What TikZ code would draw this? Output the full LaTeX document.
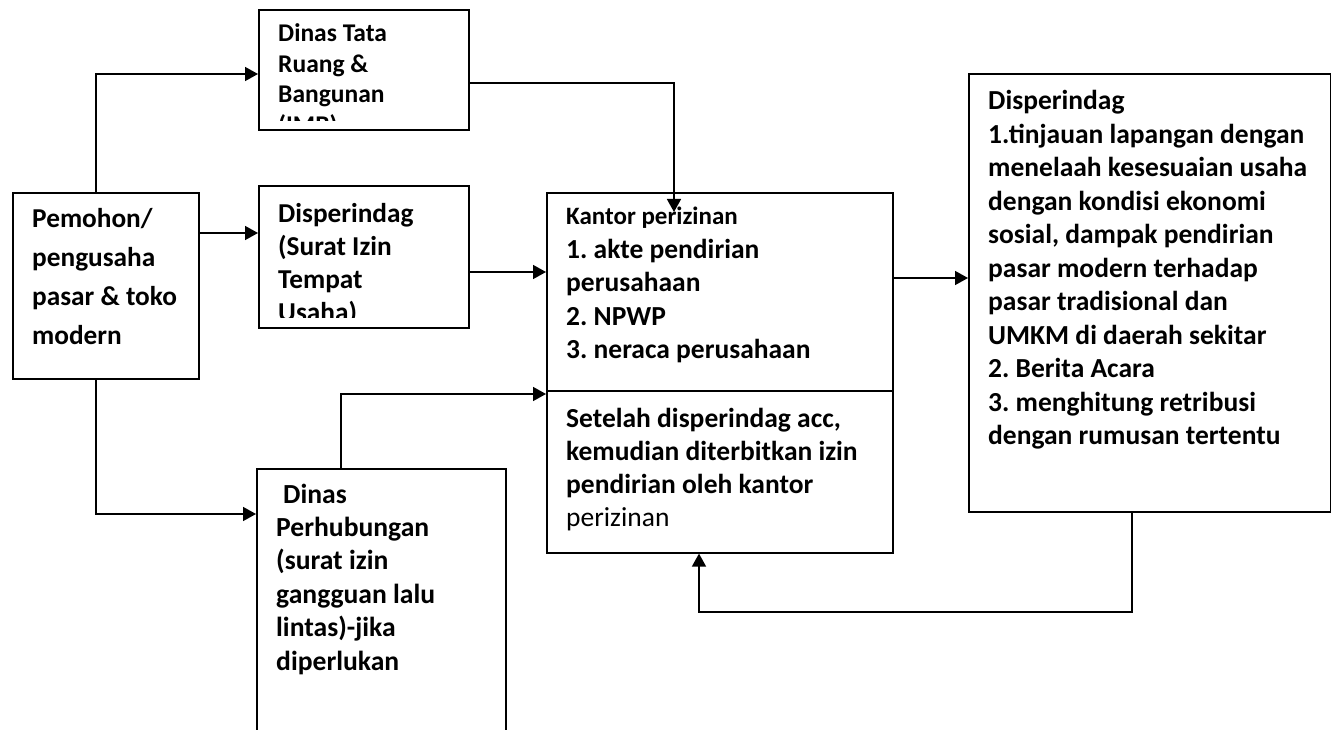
\documentclass[tikz,border=0pt]{standalone}
\usepackage{fontspec}
\setmainfont{Carlito}
\usetikzlibrary{arrows.meta}
\frenchspacing
\newcommand{\tlines}[3]{\parbox[t]{420pt}{\raggedright\frenchspacing\fontsize{#1pt}{#2pt}\selectfont\bfseries #3}}
\begin{document}
\begin{tikzpicture}[x=1pt,y=-1pt,
  box/.style={draw, line width=1.6pt, rectangle, inner sep=0pt, anchor=north west},
  arr/.style={line width=1.6pt, -{Triangle[length=13pt,width=14pt]}},
  ln/.style={line width=1.6pt},
  txt/.style={anchor=base west, inner sep=0pt}]
\useasboundingbox (0,0) rectangle (1331,730);
\clip (0,0) rectangle (1331,730);
\fill[white] (0,0) rectangle (1331,730);

% boxes
\node[box, minimum width=186pt, minimum height=186pt] (pem) at (12,192) {};
\node[box, minimum width=210pt, minimum height=120pt] (tata) at (258,9) {};
\node[box, minimum width=210pt, minimum height=142pt] (surat) at (258,185) {};
\node[box, minimum width=249pt, minimum height=280pt] (hub) at (256,468) {};
\node[box, minimum width=346pt, minimum height=360pt] (kantor) at (546,192) {};
\node[box, minimum width=362pt, minimum height=438pt] (dis) at (968,73) {};
\coordinate (divy) at (0,391);
\draw[ln] (kantor.west |- divy) -- (kantor.east |- divy);

% texts
\node[txt] (pemt) at (32,228) {\tlines{27.3}{39}{Pemohon/\\pengusaha\\pasar \& toko\\modern}};
\begin{scope}
\clip (258,9) rectangle (468,121);
\node[txt] (tatat) at (278,42) {\tlines{25.5}{30.5}{Dinas Tata\\Ruang \&\\Bangunan\\(IMB)}};
\end{scope}
\begin{scope}
\clip (258,185) rectangle (468,317);
\node[txt] (surt) at (278,223) {\tlines{27.3}{33}{Disperindag\\(Surat Izin\\Tempat\\Usaha)}};
\end{scope}
\node[txt] (hubt) at (276,503) {\tlines{27.6}{33.4}{\hspace*{7pt}Dinas\\Perhubungan\\(surat izin\\gangguan lalu\\lintas)-jika\\diperlukan}};
\node[txt] (kant) at (566,225) {\tlines{27.5}{33.5}{{\fontsize{25pt}{33.5pt}\selectfont Kantor perizinan}\\1. akte pendirian\\perusahaan\\2. NPWP\\3. neraca perusahaan}};
\node[txt] (kanb) at (566,427) {\tlines{27.5}{33.3}{Setelah disperindag acc,\\kemudian diterbitkan izin\\pendirian oleh kantor\\\mdseries perizinan}};
\node[txt] (dist) at (988,110) {\tlines{27.5}{33.5}{Disperindag\\1.tinjauan lapangan dengan\\menelaah kesesuaian usaha\\dengan kondisi ekonomi\\sosial, dampak pendirian\\pasar modern terhadap\\pasar tradisional dan\\UMKM di daerah sekitar\\2. Berita Acara\\3. menghitung retribusi\\dengan rumusan tertentu}};

% helper coordinates
\coordinate (xl) at (96,0);
\coordinate (xh) at (341,0);
\coordinate (xb) at (699,0);
\coordinate (xr) at (1132,0);
\coordinate (ya) at (0,74);
\coordinate (yb) at (0,514);
\coordinate (yc) at (0,233);
\coordinate (yd) at (0,272);
\coordinate (ye) at (0,83);
\coordinate (yf) at (0,394);
\coordinate (yg) at (0,278);
\coordinate (kin) at (674,212);
\coordinate (lowr) at (1132,612);

% connectors
\draw[arr] (pem.north -| xl) |- (tata.west |- ya);
\draw[arr] (pem.south -| xl) |- (hub.west |- yb);
\draw[arr] (pem.east |- yc) -- (surat.west |- yc);
\draw[arr] (surat.east |- yd) -- (kantor.west |- yd);
\draw[arr] (tata.east |- ye) -| (kin);
\draw[arr] (hub.north -| xh) |- (kantor.west |- yf);
\draw[arr] (kantor.east |- yg) -- (dis.west |- yg);
\draw[arr] (dis.south -| xr) -- (lowr) -| (kantor.south -| xb);
\end{tikzpicture}
\end{document}
